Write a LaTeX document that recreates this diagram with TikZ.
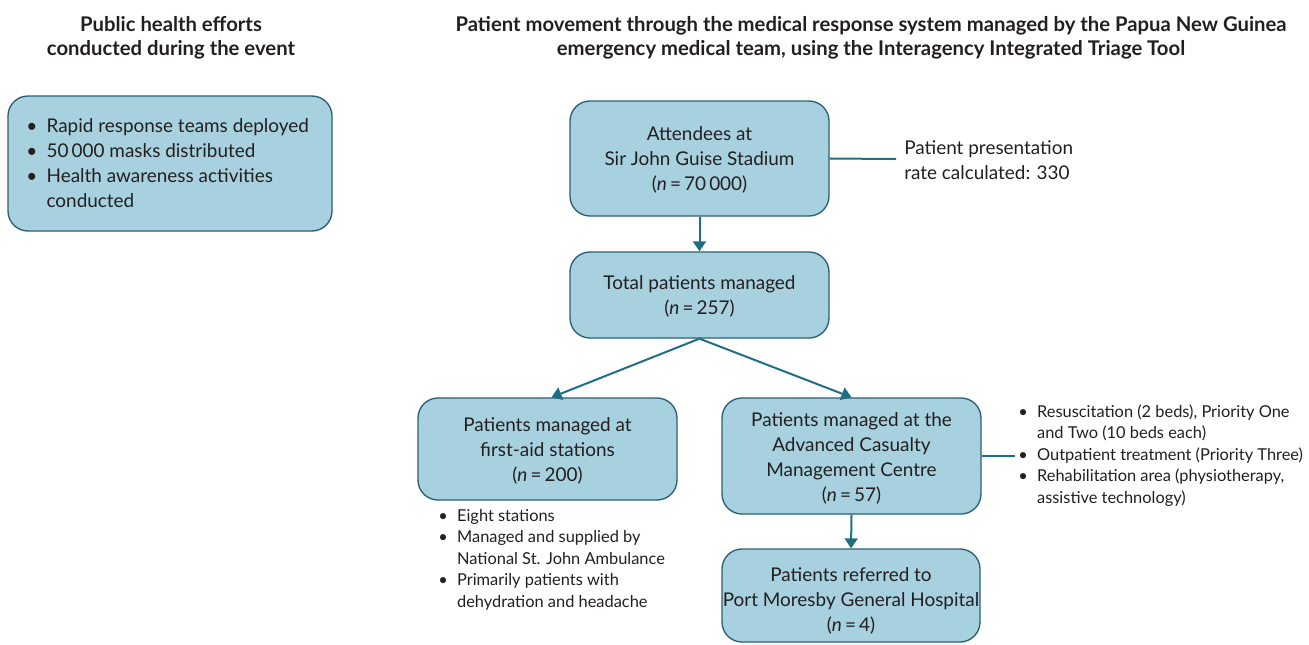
\documentclass[tikz,border=0pt]{standalone}
\usepackage{fontspec}
\setmainfont{Lato}
\usetikzlibrary{arrows.meta,calc}
\definecolor{boxfill}{HTML}{A8D1E0}
\definecolor{boxline}{HTML}{2B5E72}
\definecolor{arrowc}{HTML}{1E6F86}
\definecolor{txt}{HTML}{231F20}
\tikzset{
  box/.style={draw=boxline, line width=1pt, fill=boxfill, rounded corners=15pt, align=center, text=txt,
    font=\fontsize{14.2}{18.75}\selectfont, inner sep=0pt},
  boxtext/.style={align=center, text=txt, font=\fontsize{14.2}{18.75}\selectfont, inner sep=0pt},
  head/.style={align=center, text=txt, font=\fontsize{15.2}{18}\selectfont\bfseries},
  note/.style={align=left, text=txt, anchor=west, inner sep=0pt, font=\fontsize{12.3}{16.1}\selectfont},
  conn/.style={draw=arrowc, line width=1.5pt},
  arr/.style={conn, -{Triangle[width=9.75pt,length=7.5pt]}},
}
\newcommand{\bitem}{\textbullet}
\begin{document}
\begin{tikzpicture}[x=0.75pt,y=-0.75pt]
\useasboundingbox (0,0) rectangle (1309,644);
% headings
\node[head] (h1) at (171,38) {Public health efforts\\conducted during the event};
\node[head] (h2) at (871,38) {Patient movement through the medical response system managed by the Papua New Guinea\\emergency medical team, using the Interagency Integrated Triage Tool};
% left box
\node[box, minimum width=243pt, minimum height=101.25pt] (L) at (170,163.5) {};
\node[note, font=\fontsize{14.2}{18.75}\selectfont] (Lt) at (26,165) {%
\begin{tabular}{@{}l@{\hspace{7pt}}l@{}}
\bitem & Rapid response teams deployed\\
\bitem & 50\,000 masks distributed\\
\bitem & Health awareness activities\\
 & conducted
\end{tabular}};
% flow boxes
\node[box, minimum width=194.25pt, minimum height=86.25pt] (A) at (699.5,158.5) {};
\node[boxtext] (At) at (699.5,160) {Attendees at\\Sir John Guise Stadium\\(\textit{n}\,=\,70\,000)};
\node[box, minimum width=194.25pt, minimum height=64.5pt] (B) at (699.5,295) {};
\node[boxtext] (Bt) at (699.5,296) {Total patients managed\\(\textit{n}\,=\,257)};
\node[box, minimum width=194.25pt, minimum height=76.5pt] (C) at (547.5,449) {};
\node[boxtext] (Ct) at (547.5,451) {Patients managed at\\first-aid stations\\(\textit{n}\,=\,200)};
\node[box, minimum width=194.25pt, minimum height=87pt] (D) at (851.5,456) {};
\node[boxtext] (Dt) at (851.5,458.5) {Patients managed at the\\Advanced Casualty\\Management Centre\\(\textit{n}\,=\,57)};
\node[box, minimum width=193.5pt, minimum height=69.75pt] (E) at (851,595.5) {};
\node[boxtext] (Et) at (851,601) {Patients referred to\\Port Moresby General Hospital\\(\textit{n}\,=\,4)};
% side notes
\node[note, font=\fontsize{14.2}{18.75}\selectfont] (P) at (904,160) {Patient presentation\\rate calculated: 330};
\coordinate (Pw) at (896,159);
\node[note] (Dn) at (1018,456) {%
\begin{tabular}{@{}l@{\hspace{7pt}}l@{}}
\bitem & Resuscitation (2 beds), Priority One\\
 & and Two (10 beds each)\\
\bitem & Outpatient treatment (Priority Three)\\
\bitem & Rehabilitation area (physiotherapy,\\
 & assistive technology)
\end{tabular}};
\coordinate (Dw) at (1015,456);
\node[note] (Cn) at (438,560) {%
\begin{tabular}{@{}l@{\hspace{7pt}}l@{}}
\bitem & Eight stations\\
\bitem & Managed and supplied by\\
 & National St. John Ambulance\\
\bitem & Primarily patients with\\
 & dehydration and headache
\end{tabular}};
% connectors
\draw[arr] (A.south) -- (B.north);
\draw[arr] (B.south) -- ($(C.north)+(4,0)$);
\draw[arr] (B.south) -- (D.north);
\draw[arr] (D.south) -- (E.north);
\draw[conn] (A.east) -- (Pw);
\draw[conn] (D.east) -- (Dw);
\end{tikzpicture}
\end{document}
